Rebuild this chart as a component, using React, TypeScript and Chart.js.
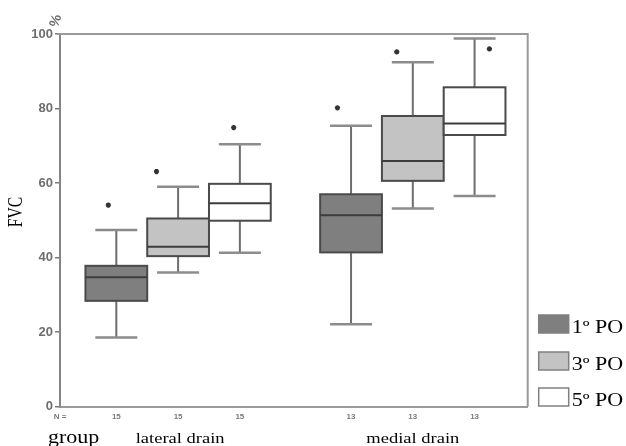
import React, { useEffect, useRef } from 'react';
import { Chart, registerables } from 'chart.js';

Chart.register(...registerables);

// ---- data ----
const groupLabels = ['lateral drain', 'medial drain'];
const seriesLabels = ['1º PO', '3º PO', '5º PO'];
const seriesColors = ['#7f7f7f', '#c3c3c3', '#ffffff'];
const boxSeries = [0, 1, 2, 0, 1, 2];
const boxPositions = [1, 2, 3, 4.8, 5.8, 6.8];
const boxCounts = ['15', '15', '15', '13', '13', '13'];
const whiskerLow = [18.6, 36.0, 41.3, 22.1, 53.2, 56.5];
const quartile1 = [28.4, 40.4, 49.9, 41.4, 60.6, 72.9];
const medians = [34.7, 42.9, 54.6, 51.4, 65.9, 76.0];
const quartile3 = [37.8, 50.5, 59.8, 57.0, 78.0, 85.7];
const whiskerHigh = [47.4, 59.0, 70.4, 75.4, 92.4, 98.8];
const outlierX = [0.87, 1.65, 2.9, 4.58, 5.54, 7.04];
const outlierY = [54.1, 63.1, 74.9, 80.2, 95.2, 96.0];
const yMin = 0;
const yMax = 100;
const yStep = 20;
const xMin = 0.088;
const xMax = 7.66;

const serif = '"Liberation Serif", "Times New Roman", serif';
const sans = '"Liberation Sans", Arial, sans-serif';
const squish = 0.82;

function drawText(ctx: any, text: string, x: number, y: number, font: string, align: string, color = '#000') {
  ctx.save();
  ctx.translate(x, y);
  ctx.scale(1, squish);
  ctx.font = font;
  ctx.fillStyle = color;
  ctx.textAlign = align;
  ctx.textBaseline = 'alphabetic';
  ctx.fillText(text, 0, 0);
  ctx.restore();
}

const boxPlugin = {
  id: 'boxPlugin',
  beforeDatasetsDraw(chart: any) {
    const { ctx, scales } = chart;
    const xs = scales.x;
    const ys = scales.y;
    ctx.save();
    for (let i = 0; i < boxPositions.length; i++) {
      const p = boxPositions[i];
      const xc = xs.getPixelForValue(p);
      const xl = xs.getPixelForValue(p - 0.5);
      const xr = xs.getPixelForValue(p + 0.5);
      const cl = xs.getPixelForValue(p - 0.34);
      const cr = xs.getPixelForValue(p + 0.34);
      const yLo = ys.getPixelForValue(whiskerLow[i]);
      const yQ1 = ys.getPixelForValue(quartile1[i]);
      const yMed = ys.getPixelForValue(medians[i]);
      const yQ3 = ys.getPixelForValue(quartile3[i]);
      const yHi = ys.getPixelForValue(whiskerHigh[i]);
      // whiskers
      ctx.strokeStyle = '#6e6e6e';
      ctx.lineWidth = 2;
      ctx.beginPath();
      ctx.moveTo(xc, yHi);
      ctx.lineTo(xc, yQ3);
      ctx.moveTo(xc, yQ1);
      ctx.lineTo(xc, yLo);
      ctx.stroke();
      // caps
      ctx.strokeStyle = '#8c8c8c';
      ctx.lineWidth = 2.5;
      ctx.beginPath();
      ctx.moveTo(cl, yHi);
      ctx.lineTo(cr, yHi);
      ctx.moveTo(cl, yLo);
      ctx.lineTo(cr, yLo);
      ctx.stroke();
      // box
      ctx.fillStyle = seriesColors[boxSeries[i]];
      ctx.fillRect(xl, yQ3, xr - xl, yQ1 - yQ3);
      ctx.strokeStyle = '#4a4a4a';
      ctx.lineWidth = 2;
      ctx.strokeRect(xl, yQ3, xr - xl, yQ1 - yQ3);
      // median
      ctx.strokeStyle = '#3c3c3c';
      ctx.beginPath();
      ctx.moveTo(xl, yMed);
      ctx.lineTo(xr, yMed);
      ctx.stroke();
    }
    ctx.restore();
  },
  afterDraw(chart: any) {
    const { ctx, chartArea, scales } = chart;
    const xs = scales.x;
    ctx.save();
    // frame top and right
    ctx.strokeStyle = '#9a9a9a';
    ctx.lineWidth = 2;
    ctx.beginPath();
    ctx.moveTo(chartArea.left - 3, chartArea.top);
    ctx.lineTo(chartArea.right, chartArea.top);
    ctx.lineTo(chartArea.right, chartArea.bottom);
    ctx.stroke();

    // FVC title
    ctx.save();
    ctx.fillStyle = '#000';
    ctx.font = '20px ' + serif;
    ctx.textAlign = 'center';
    ctx.textBaseline = 'middle';
    ctx.translate(17, 212);
    ctx.rotate(-Math.PI / 2);
    ctx.scale(0.78, 1);
    ctx.fillText('FVC', 0, 0);
    ctx.restore();

    // % unit
    ctx.save();
    ctx.fillStyle = '#707070';
    ctx.font = 'bold 14px ' + sans;
    ctx.textAlign = 'center';
    ctx.textBaseline = 'middle';
    ctx.translate(chartArea.left - 4, chartArea.top - 13);
    ctx.rotate(-Math.PI * 0.4);
    ctx.fillText('%', 0, 0);
    ctx.restore();

    // group labels
    drawText(ctx, 'group', 48, 443, '22px ' + serif, 'left');
    drawText(ctx, groupLabels[0], xs.getPixelForValue(boxPositions[1]) + 2, 443, '18.5px ' + serif, 'center');
    drawText(ctx, groupLabels[1], xs.getPixelForValue(boxPositions[4]), 443, '18.5px ' + serif, 'center');

    // legend
    const lx = chartArea.right + 11;
    const tops = [315, 352, 388];
    for (let s = 0; s < seriesLabels.length; s++) {
      const t = tops[s];
      ctx.fillStyle = seriesColors[s];
      ctx.fillRect(lx, t, 30, 18);
      ctx.strokeStyle = '#808080';
      ctx.lineWidth = 1.5;
      ctx.strokeRect(lx, t, 30, 18);
      drawText(ctx, seriesLabels[s], lx + 33, t + 18, '22px ' + serif, 'left');
    }
    ctx.restore();
  },
};

export default function App() {
  const ref = useRef<HTMLCanvasElement | null>(null);
  useEffect(() => {
    if (!ref.current) return;
    const chart = new Chart(ref.current, {
      type: 'scatter',
      data: {
        datasets: [
          {
            label: 'outliers',
            data: outlierX.map((x, i) => ({ x, y: outlierY[i] })),
            pointStyle: 'star',
            radius: 2.6,
            borderColor: '#333',
            backgroundColor: '#333',
            borderWidth: 1.6,
          },
        ],
      },
      options: {
        animation: false,
        responsive: false,
        devicePixelRatio: 1,
        layout: { padding: { left: 0, top: 34, right: 98.3, bottom: 0 } },
        plugins: { legend: { display: false }, tooltip: { enabled: false }, title: { display: false } },
        scales: {
          x: {
            type: 'linear',
            min: xMin,
            max: xMax,
            afterFit: (scale: any) => {
              scale.height = 39.3;
            },
            afterBuildTicks: (scale: any) => {
              scale.ticks = [{ value: xMin }, ...boxPositions.map((v) => ({ value: v }))];
            },
            ticks: {
              autoSkip: false,
              maxRotation: 0,
              padding: 5,
              color: '#7a7a7a',
              font: { family: sans, size: 8, weight: 'bold' },
              callback: (_v: any, index: number) => (index === 0 ? 'N =' : boxCounts[index - 1]),
            },
            grid: { display: false, drawTicks: false },
            border: { display: true, color: '#9a9a9a', width: 2 },
          },
          y: {
            type: 'linear',
            min: yMin,
            max: yMax,
            afterFit: (scale: any) => {
              scale.width = 60;
            },
            ticks: {
              stepSize: yStep,
              padding: 2,
              color: '#6e6e6e',
              font: { family: sans, size: 13, weight: 'bold' },
            },
            grid: { display: true, drawOnChartArea: false, drawTicks: true, tickLength: 5, color: '#777', lineWidth: 1.5 },
            border: { display: true, color: '#858585', width: 2 },
          },
        },
      },
      plugins: [boxPlugin],
    } as any);
    return () => chart.destroy();
  }, []);
  return (
    <div style={{ position: 'absolute', left: 0, top: 0, width: 626, height: 446, background: '#fff' }}>
      <canvas ref={ref} width={626} height={446} style={{ display: 'block' }} />
    </div>
  );
}
